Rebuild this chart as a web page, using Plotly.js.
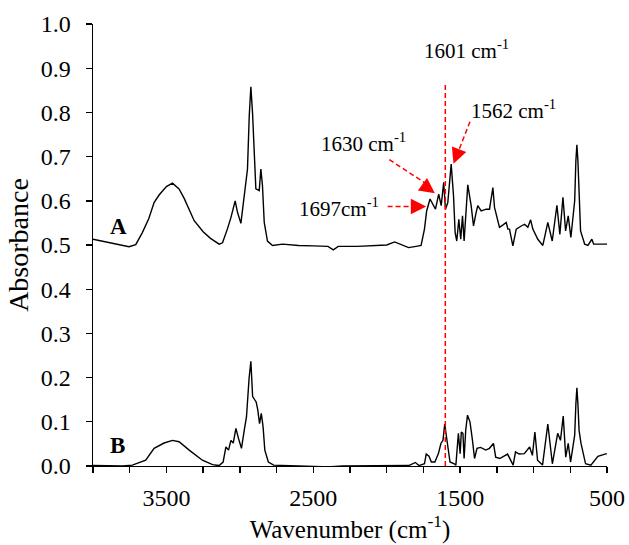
<!DOCTYPE html>
<html>
<head>
<meta charset="utf-8">
<script src="https://cdn.plot.ly/plotly-3.0.1.min.js"></script>
<style>
  html, body { margin: 0; padding: 0; background: #ffffff; }
  #chart { width: 629px; height: 545px; }
</style>
</head>
<body>
<div id="chart"></div>
<script>
// ---- Data ----
const wavenumberA = [4000, 3857, 3755, 3709, 3664, 3620, 3584, 3550, 3500, 3459, 3414, 3380, 3350, 3311, 3250, 3200, 3141, 3118, 3084, 3061, 3032, 3016, 2993, 2970, 2948, 2936, 2925, 2914, 2902, 2891, 2868, 2857, 2846, 2834, 2812, 2778, 2709, 2600, 2500, 2400, 2364, 2330, 2200, 2100, 2000, 1946, 1900, 1851, 1800, 1766, 1743, 1728, 1705, 1687, 1668, 1646, 1629, 1612, 1600, 1584, 1561, 1545, 1534, 1523, 1509, 1496, 1484, 1473, 1448, 1425, 1409, 1391, 1380, 1357, 1323, 1300, 1277, 1266, 1243, 1232, 1210, 1186, 1175, 1164, 1141, 1118, 1084, 1061, 1039, 1020, 1005, 971, 937, 903, 873, 841, 821, 800, 782, 764, 746, 720, 712, 705, 698, 690, 680, 652, 630, 603, 591, 500];
const absorbanceA = [0.513, 0.504, 0.496, 0.501, 0.528, 0.560, 0.596, 0.613, 0.632, 0.640, 0.627, 0.606, 0.585, 0.555, 0.530, 0.515, 0.502, 0.505, 0.537, 0.562, 0.600, 0.574, 0.549, 0.611, 0.672, 0.793, 0.858, 0.801, 0.695, 0.627, 0.623, 0.672, 0.634, 0.551, 0.509, 0.499, 0.502, 0.499, 0.498, 0.497, 0.489, 0.497, 0.497, 0.498, 0.500, 0.507, 0.501, 0.494, 0.497, 0.499, 0.536, 0.577, 0.604, 0.592, 0.581, 0.615, 0.589, 0.642, 0.581, 0.596, 0.683, 0.611, 0.528, 0.509, 0.558, 0.513, 0.566, 0.509, 0.636, 0.589, 0.543, 0.574, 0.589, 0.577, 0.581, 0.581, 0.630, 0.585, 0.551, 0.540, 0.545, 0.551, 0.536, 0.536, 0.498, 0.536, 0.543, 0.547, 0.540, 0.557, 0.536, 0.513, 0.499, 0.551, 0.509, 0.590, 0.524, 0.608, 0.532, 0.566, 0.517, 0.600, 0.690, 0.727, 0.690, 0.600, 0.532, 0.502, 0.499, 0.513, 0.502, 0.502];

const wavenumberB = [4000, 3800, 3732, 3641, 3584, 3516, 3459, 3414, 3345, 3255, 3186, 3141, 3114, 3095, 3077, 3061, 3045, 3027, 3009, 2989, 2970, 2955, 2937, 2925, 2913, 2889, 2878, 2866, 2854, 2842, 2830, 2806, 2770, 2600, 2500, 2400, 2300, 2000, 1850, 1805, 1780, 1743, 1731, 1712, 1696, 1672, 1648, 1631, 1617, 1605, 1588, 1569, 1540, 1529, 1512, 1500, 1492, 1481, 1473, 1462, 1450, 1433, 1416, 1402, 1385, 1361, 1325, 1301, 1273, 1258, 1230, 1177, 1139, 1123, 1098, 1063, 1027, 1008, 991, 973, 939, 903, 872, 836, 817, 798, 781, 764, 748, 720, 712, 705, 698, 690, 677, 646, 610, 585, 562, 514, 501];
const absorbanceB = [0.001, 0.000, 0.002, 0.013, 0.040, 0.052, 0.058, 0.055, 0.036, 0.013, 0.003, 0.001, 0.009, 0.043, 0.036, 0.058, 0.052, 0.085, 0.062, 0.040, 0.081, 0.111, 0.199, 0.237, 0.157, 0.145, 0.127, 0.096, 0.119, 0.089, 0.036, 0.009, 0.002, 0.000, -0.002, -0.002, 0.000, 0.000, 0.001, 0.008, 0.001, 0.005, 0.027, 0.022, 0.009, 0.009, 0.028, 0.051, 0.058, 0.095, 0.058, 0.009, 0.005, 0.002, 0.074, 0.028, 0.077, 0.074, 0.017, 0.081, 0.115, 0.100, 0.058, 0.017, 0.040, 0.042, 0.036, 0.040, 0.051, 0.020, 0.017, 0.027, 0.002, 0.032, 0.027, 0.028, 0.043, 0.024, 0.077, 0.013, 0.002, 0.095, 0.005, 0.074, 0.058, 0.113, 0.020, 0.051, 0.009, 0.070, 0.140, 0.177, 0.140, 0.080, 0.051, 0.005, 0.002, 0.013, 0.022, 0.027, 0.028];

const xLabelled = [3500, 2500, 1500, 500];
const yTickVals = [0, 0.1, 0.2, 0.3, 0.4, 0.5, 0.6, 0.7, 0.8, 0.9, 1.0];
const markerWavenumber = 1601;
const peakLabels = ['1601 cm<sup>-1</sup>', '1562 cm<sup>-1</sup>', '1630 cm<sup>-1</sup>', '1697cm<sup>-1</sup>'];
const seriesLabels = ['A', 'B'];

// ---- Build figure ----
const serif = 'Liberation Serif, Times New Roman, serif';
const traces = [
  { x: wavenumberA, y: absorbanceA, type: 'scatter', mode: 'lines',
    line: { color: '#000000', width: 1.4 }, hoverinfo: 'skip', showlegend: false },
  { x: wavenumberB, y: absorbanceB, type: 'scatter', mode: 'lines',
    line: { color: '#000000', width: 1.4 }, hoverinfo: 'skip', showlegend: false }
];

const red = '#FF0000';
const dashStyle = { color: red, width: 1.5, dash: '5px,3px' };
const shapes = [
  { type: 'line', xref: 'x', yref: 'y', x0: markerWavenumber, x1: markerWavenumber, y0: 0, y1: 0.866, line: dashStyle },
  // arrow shafts (dashed)
  { type: 'line', xref: 'x', yref: 'y', x0: 1994, y0: 0.587, x1: 1760, y1: 0.587, line: dashStyle },
  { type: 'line', xref: 'x', yref: 'y', x0: 1982, y0: 0.693, x1: 1700, y1: 0.632, line: dashStyle },
  { type: 'line', xref: 'x', yref: 'y', x0: 1433, y0: 0.779, x1: 1520, y1: 0.705, line: dashStyle }
];

const annFont = { family: serif, size: 21, color: '#000000' };
const headStyle = { showarrow: true, arrowhead: 2, arrowsize: 2.2, arrowwidth: 1.4, arrowcolor: red, text: '' };
const annotations = [
  { x: 1457, y: 0.942, xref: 'x', yref: 'y', text: peakLabels[0], showarrow: false, font: annFont },
  { x: 1136, y: 0.806, xref: 'x', yref: 'y', text: peakLabels[1], showarrow: false, font: annFont },
  { x: 2159, y: 0.731, xref: 'x', yref: 'y', text: peakLabels[2], showarrow: false, font: annFont },
  { x: 2323, y: 0.584, xref: 'x', yref: 'y', text: peakLabels[3], showarrow: false, font: annFont },
  Object.assign({ x: 1731, y: 0.587, xref: 'x', yref: 'y', ax: -14, ay: 0 }, headStyle),
  Object.assign({ x: 1672, y: 0.617, xref: 'x', yref: 'y', ax: -11.3, ay: -8.3 }, headStyle),
  Object.assign({ x: 1545, y: 0.684, xref: 'x', yref: 'y', ax: 5, ay: -13 }, headStyle),
  { x: 3823, y: 0.542, xref: 'x', yref: 'y', text: '<b>' + seriesLabels[0] + '</b>', showarrow: false,
    font: { family: serif, size: 23, color: '#000000' } },
  { x: 3830, y: 0.047, xref: 'x', yref: 'y', text: '<b>' + seriesLabels[1] + '</b>', showarrow: false,
    font: { family: serif, size: 23, color: '#000000' } }
];

const layout = {
  width: 629, height: 545,
  margin: { l: 93, r: 22, t: 24, b: 79 },
  paper_bgcolor: '#ffffff', plot_bgcolor: '#ffffff',
  font: { family: serif, color: '#000000' },
  xaxis: {
    range: [4000, 500], showgrid: false, zeroline: false,
    showline: true, linecolor: '#000000', linewidth: 1.4,
    ticks: 'outside', ticklen: 6, tickwidth: 1.4, tickcolor: '#000000',
    tickmode: 'array', tickvals: xLabelled, ticktext: xLabelled.map(String),
    minor: { dtick: 250, tick0: 500, ticks: 'outside', ticklen: 6, tickwidth: 1.4, tickcolor: '#000000', showgrid: false },
    tickfont: { family: serif, size: 24, color: '#000000' },
    ticklabelstandoff: 4,
    title: { text: 'Wavenumber (cm<sup>-1</sup>)', font: { family: serif, size: 25, color: '#000000' }, standoff: 8 }
  },
  yaxis: {
    range: [0, 1], showgrid: false, zeroline: false,
    showline: true, linecolor: '#000000', linewidth: 1.4,
    ticks: 'outside', ticklen: 6, tickwidth: 1.4, tickcolor: '#000000',
    tickmode: 'array', tickvals: yTickVals, ticktext: yTickVals.map(v => v.toFixed(1)),
    tickfont: { family: serif, size: 24, color: '#000000' },
    ticklabelstandoff: 10,
    title: { text: 'Absorbance', font: { family: serif, size: 28, color: '#000000' }, standoff: 4 }
  },
  shapes: shapes,
  annotations: annotations
};

Plotly.newPlot('chart', traces, layout, { displayModeBar: false, staticPlot: true });
</script>
</body>
</html>
